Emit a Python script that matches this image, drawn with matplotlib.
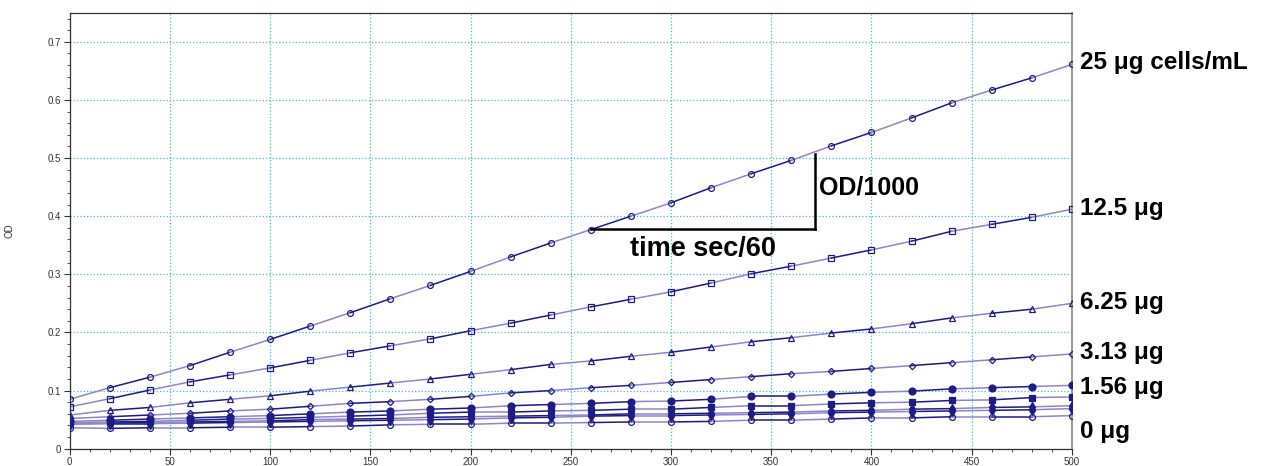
import matplotlib.pyplot as plt
from matplotlib.ticker import MultipleLocator
import matplotlib.transforms as mtransforms

plt.rcParams['font.family'] = ['Liberation Sans', 'DejaVu Sans']

# time points
time = list(range(0, 501, 20))

# OD readings per cell concentration
od_25 = [0.085, 0.105, 0.123, 0.143, 0.166, 0.188, 0.211, 0.234, 0.258, 0.281, 0.305, 0.330, 0.354,
         0.377, 0.400, 0.423, 0.449, 0.473, 0.496, 0.521, 0.544, 0.569, 0.595, 0.617, 0.638, 0.661]
od_12_5 = [0.072, 0.086, 0.101, 0.115, 0.127, 0.139, 0.152, 0.165, 0.177, 0.189, 0.203, 0.216, 0.230,
           0.244, 0.257, 0.270, 0.285, 0.301, 0.314, 0.328, 0.342, 0.357, 0.374, 0.386, 0.398, 0.412]
od_6_25 = [0.058, 0.066, 0.071, 0.079, 0.085, 0.091, 0.099, 0.106, 0.113, 0.120, 0.128, 0.136, 0.145,
           0.151, 0.159, 0.166, 0.175, 0.184, 0.191, 0.199, 0.206, 0.215, 0.225, 0.233, 0.240, 0.250]
od_3_13 = [0.052, 0.055, 0.058, 0.061, 0.065, 0.068, 0.073, 0.078, 0.081, 0.085, 0.090, 0.096, 0.100,
           0.105, 0.109, 0.114, 0.119, 0.124, 0.129, 0.133, 0.138, 0.143, 0.148, 0.153, 0.158, 0.163]
od_1_56 = [0.047, 0.049, 0.051, 0.053, 0.055, 0.057, 0.060, 0.063, 0.065, 0.068, 0.070, 0.074, 0.076,
           0.078, 0.081, 0.082, 0.085, 0.090, 0.090, 0.094, 0.097, 0.099, 0.103, 0.105, 0.107, 0.109]
od_0_78 = [0.045, 0.046, 0.047, 0.049, 0.051, 0.052, 0.054, 0.056, 0.058, 0.061, 0.063, 0.063, 0.065,
           0.066, 0.068, 0.068, 0.071, 0.074, 0.074, 0.077, 0.079, 0.080, 0.083, 0.084, 0.088, 0.089]
od_0_39 = [0.043, 0.044, 0.045, 0.046, 0.047, 0.048, 0.050, 0.051, 0.052, 0.054, 0.055, 0.056, 0.057,
           0.058, 0.060, 0.060, 0.061, 0.062, 0.063, 0.065, 0.066, 0.068, 0.069, 0.071, 0.072, 0.074]
od_0_20 = [0.042, 0.043, 0.043, 0.044, 0.045, 0.046, 0.047, 0.048, 0.049, 0.050, 0.051, 0.053, 0.054,
           0.056, 0.057, 0.057, 0.058, 0.059, 0.060, 0.062, 0.063, 0.064, 0.065, 0.066, 0.067, 0.069]
od_0 = [0.036, 0.035, 0.036, 0.036, 0.037, 0.037, 0.038, 0.039, 0.041, 0.042, 0.042, 0.044, 0.044,
        0.045, 0.046, 0.046, 0.047, 0.049, 0.049, 0.051, 0.053, 0.053, 0.055, 0.055, 0.055, 0.057]

# right-hand labels and where they sit (OD level)
labels = ["25 μg cells/mL", "12.5 μg", "6.25 μg", "3.13 μg", "1.56 μg", "0 μg"]
label_y = [0.664, 0.414, 0.252, 0.165, 0.105, 0.029]

dark = '#1c1c84'
light = '#8c86c8'

# (values, marker, filled, size)
series = [
    (od_25, 'o', False, 4.2),
    (od_12_5, 's', False, 4.2),
    (od_6_25, '^', False, 4.8),
    (od_3_13, 'D', False, 3.2),
    (od_1_56, 'o', True, 5.0),
    (od_0_78, 's', True, 4.6),
    (od_0_39, 'd', True, 4.6),
    (od_0_20, 'd', True, 4.6),
    (od_0, 'o', False, 4.2),
]

fig = plt.figure(figsize=(12.7, 4.66), dpi=100)
ax = fig.add_axes([0.0549, 0.0371, 0.7891, 0.9356])

for vals, mk, filled, ms in series:
    # segments alternate between dark and light like the original export
    for i in range(len(time) - 1):
        ax.plot(time[i:i + 2], vals[i:i + 2], color=dark if i % 2 else light, lw=1.1, zorder=2)
    ax.plot(time, vals, ls='none', marker=mk, ms=ms, mec=dark, mew=0.9,
            mfc=dark if filled else 'none', zorder=3)

# slope annotation triangle
ax.plot([260, 372], [0.378, 0.378], color='black', lw=1.8, zorder=4)
ax.plot([372, 372], [0.378, 0.507], color='black', lw=1.8, zorder=4)
ax.text(316, 0.343, "time sec/60", fontsize=19.5, fontweight='bold', ha='center', va='center')
ax.text(374, 0.45, "OD/1000", fontsize=18, fontweight='bold', ha='left', va='center')

trans = mtransforms.blended_transform_factory(ax.transAxes, ax.transData)
for lab, yy in zip(labels, label_y):
    ax.text(1.008, yy, lab, transform=trans, fontsize=17.5, fontweight='bold',
            ha='left', va='center', clip_on=False)

ax.set_xlim(0, 500)
ax.set_ylim(0, 0.75)
ax.xaxis.set_major_locator(MultipleLocator(50))
ax.xaxis.set_minor_locator(MultipleLocator(10))
ax.yaxis.set_major_locator(MultipleLocator(0.1))
ax.yaxis.set_minor_locator(MultipleLocator(0.02))
ax.set_yticks([0, 0.1, 0.2, 0.3, 0.4, 0.5, 0.6, 0.7])
ax.set_yticklabels(["0", "0.1", "0.2", "0.3", "0.4", "0.5", "0.6", "0.7"])
ax.tick_params(which='major', direction='out', length=4, width=0.8, labelsize=7,
               colors='#333333', pad=2)
ax.tick_params(which='minor', direction='out', length=2.5, width=0.6, colors='#333333')
ax.grid(True, which='major', color='#40b8dc', ls=':', lw=0.9)
ax.set_ylabel("OD", fontsize=7, color='#333333', labelpad=24)

for side in ['left', 'bottom', 'top']:
    ax.spines[side].set_color('#333333')
    ax.spines[side].set_linewidth(0.9)
ax.spines['right'].set_color('#888888')
ax.spines['right'].set_linewidth(1.2)

plt.savefig("out.png", dpi=100)
